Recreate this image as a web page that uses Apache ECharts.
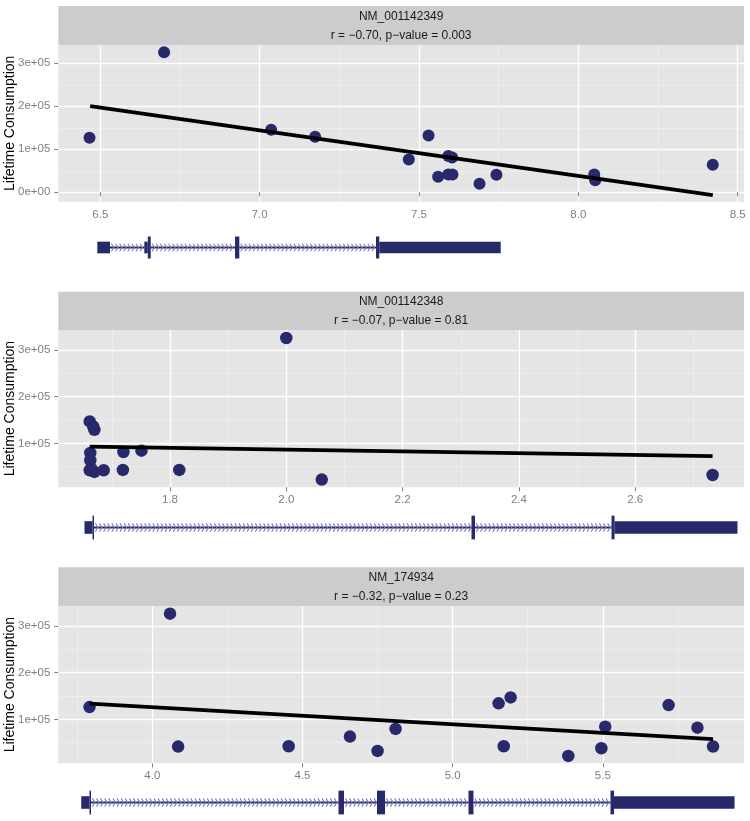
<!DOCTYPE html>
<html><head><meta charset="utf-8">
<script src="https://cdn.jsdelivr.net/npm/echarts@6/dist/echarts.min.js"></script>
<style>html,body{margin:0;padding:0;background:#fff}#c{width:750px;height:821px}</style>
</head><body><div id="c"></div>
<script>
// ---------- data ----------
const geneNames = ['NM_001142349', 'NM_001142348', 'NM_174934'];
const statLabels = ['r = \u22120.70, p\u2212value = 0.003', 'r = \u22120.07, p\u2212value = 0.81', 'r = \u22120.32, p\u2212value = 0.23'];
const yAxisTitle = 'Lifetime Consumption';

const yTickValues = [0, 100000, 200000, 300000];
const yTickLabels = ['0e+00', '1e+05', '2e+05', '3e+05'];
const xTicks1 = [6.5, 7.0, 7.5, 8.0, 8.5];
const xTicks2 = [1.8, 2.0, 2.2, 2.4, 2.6];
const xTicks3 = [4.0, 4.5, 5.0, 5.5];

const x1 = [6.466, 6.700, 7.036, 7.174, 7.468, 7.530, 7.560, 7.592, 7.604, 7.592, 7.605, 7.690, 7.743, 8.050, 8.053, 8.422];
const y1 = [127000, 325800, 145700, 129200, 76000, 132300, 36000, 84600, 81000, 41500, 41500, 19600, 40700, 41500, 28000, 64000];
const fitX1 = [6.468, 8.422];
const fitY1 = [200500, -6500];

const x2 = [1.662, 1.668, 1.670, 1.663, 1.663, 1.662, 1.670, 1.686, 1.720, 1.719, 1.751, 1.816, 2.000, 2.061, 2.733, 1.665];
const y2 = [147000, 136300, 129000, 79400, 63700, 42300, 38800, 42300, 81500, 43000, 84300, 43000, 325600, 22400, 32200, 45000];
const fitX2 = [1.662, 2.733];
const fitY2 = [92800, 72800];

const x3 = [3.791, 4.059, 4.086, 4.454, 4.658, 4.750, 4.810, 5.153, 5.193, 5.170, 5.385, 5.495, 5.508, 5.719, 5.815, 5.867];
const y3 = [126300, 326300, 41600, 42400, 63000, 32400, 79400, 134200, 147000, 42400, 21700, 38100, 84300, 130600, 82200, 41800];
const fitX3 = [3.791, 5.867];
const fitY3 = [133500, 57500];

// gene models: [start, end, kind] (kind 0 = intron, 1 = UTR, 2 = coding exon), relative position 0..1000
const gene1 = [[75.4, 125.4, 0], [134.8, 257.7, 0], [264.0, 463.3, 0],
  [56.9, 75.4, 1], [125.4, 130.5, 1], [130.5, 134.8, 2], [257.7, 264.0, 2], [463.3, 468.1, 2], [468.1, 645.2, 1]];
const gene2 = [[52.1, 602.6, 0], [607.7, 806.8, 0],
  [38.2, 49.9, 1], [49.9, 52.1, 2], [602.6, 607.7, 2], [806.8, 811.2, 2], [811.2, 990.5, 1]];
const gene3 = [[47.7, 408.6, 0], [416.7, 464.8, 0], [476.5, 598.2, 0], [605.5, 805.3, 0],
  [33.5, 45.5, 1], [45.5, 47.7, 2], [408.6, 416.7, 2], [464.8, 476.5, 2], [598.2, 605.5, 2], [805.3, 810.4, 2], [810.4, 986.2, 1]];

// ---------- layout ----------
const FONT = '"Liberation Sans", Arial, Helvetica, sans-serif';
const L = 58.3, W = 685.7;
const panels = [
  {xs: x1, ys: y1, fx: fitX1, fy: fitY1, ticks: xTicks1, xmin: 6.368, xmax: 8.520, ymin: -21900, ymax: 342600,
   stripTop: 6, plotTop: 45, plotH: 156.7, geneY: 247.5, gene: gene1, sc: 1.0, sym: 12},
  {xs: x2, ys: y2, fx: fitX2, fy: fitY2, ticks: xTicks2, xmin: 1.608, xmax: 2.787, ymin: 5800, ymax: 342800,
   stripTop: 291.7, plotTop: 330, plotH: 157.3, geneY: 527.5, gene: gene2, sc: 1.08, sym: 12.5},
  {xs: x3, ys: y3, fx: fitX3, fy: fitY3, ticks: xTicks3, xmin: 3.687, xmax: 5.970, ymin: 5800, ymax: 342800,
   stripTop: 567.3, plotTop: 606, plotH: 157.3, geneY: 802.5, gene: gene3, sc: 1.08, sym: 12.5}
];

const NAVY = '#27296b';
function geneRenderer(sc) {
  return function (params, api) {
    const s = api.value(0), e = api.value(1), kind = api.value(2);
    const p0 = api.coord([s, 0]), p1 = api.coord([e, 0]);
    const cy = p0[1];
    if (kind === 0) {
      const children = [{type: 'line', shape: {x1: p0[0], y1: cy, x2: p1[0], y2: cy},
        style: {stroke: NAVY, lineWidth: 2.2}}];
      for (let x = p0[0] + 3; x < p1[0] - 1; x += 4.1) {
        children.push({type: 'polyline',
          shape: {points: [[x - 1.6, cy - 3.8 * sc], [x + 0.8, cy], [x - 1.6, cy + 3.8 * sc]]},
          style: {stroke: '#7c7eb8', lineWidth: 1.1, fill: null}});
      }
      return {type: 'group', children: children};
    }
    const h = (kind === 1 ? 11.7 : 22) * sc;
    return {type: 'rect', shape: {x: p0[0], y: cy - h / 2, width: p1[0] - p0[0], height: h},
      style: {fill: NAVY}};
  };
}

const grid = [], xAxis = [], yAxis = [], series = [], graphic = [];
panels.forEach((p, i) => {
  grid.push({left: L, width: W, top: p.plotTop, height: p.plotH, show: true,
    backgroundColor: '#e5e5e5', borderWidth: 0, containLabel: false, outerBoundsMode: 'none'});
  grid.push({left: L, width: W, top: p.geneY - 15, height: 30, show: false, containLabel: false, outerBoundsMode: 'none'});
  const gi = i * 2;
  const yVals = yTickValues.filter(v => v >= p.ymin && v <= p.ymax);
  xAxis.push({gridIndex: gi, type: 'value', min: p.xmin, max: p.xmax, splitNumber: 5,
    axisLine: {show: false},
    axisTick: {show: true, length: 4, customValues: p.ticks, lineStyle: {color: '#7f7f7f', width: 1}},
    axisLabel: {customValues: p.ticks, formatter: v => v.toFixed(1), color: '#7f7f7f',
      fontSize: 11.5, fontFamily: FONT, margin: 7, showMinLabel: true, showMaxLabel: true},
    splitLine: {show: true, lineStyle: {color: '#ffffff', width: 1.3}},
    minorTick: {show: false, splitNumber: 2},
    minorSplitLine: {show: true, lineStyle: {color: '#f2f2f2', width: 0.6}}
  });
  yAxis.push({gridIndex: gi, type: 'value', min: p.ymin, max: p.ymax, splitNumber: 3,
    name: yAxisTitle, nameLocation: 'middle', nameGap: 40.8, nameMoveOverlap: false,
    nameTextStyle: {color: '#000', fontSize: 14, fontFamily: FONT},
    axisLine: {show: false},
    axisTick: {show: true, length: 4, customValues: yVals, lineStyle: {color: '#7f7f7f', width: 1}},
    axisLabel: {customValues: yVals, formatter: v => yTickLabels[yTickValues.indexOf(v)], color: '#7f7f7f',
      fontSize: 11.5, fontFamily: FONT, margin: 8},
    splitLine: {show: true, lineStyle: {color: '#ffffff', width: 1.3}},
    minorTick: {show: false, splitNumber: 2},
    minorSplitLine: {show: true, lineStyle: {color: '#f2f2f2', width: 0.6}}
  });
  xAxis.push({gridIndex: gi + 1, type: 'value', min: 0, max: 1000, show: false});
  yAxis.push({gridIndex: gi + 1, type: 'value', min: -1, max: 1, show: false});

  series.push({type: 'scatter', xAxisIndex: gi, yAxisIndex: gi,
    data: p.xs.map((x, k) => [x, p.ys[k]]), symbolSize: p.sym,
    itemStyle: {color: NAVY, opacity: 1}, z: 3});
  series.push({type: 'line', xAxisIndex: gi, yAxisIndex: gi,
    data: p.fx.map((x, k) => [x, p.fy[k]]), showSymbol: false, symbol: 'none',
    lineStyle: {color: '#000', width: 3.8}, z: 4});
  series.push({type: 'custom', xAxisIndex: gi + 1, yAxisIndex: gi + 1,
    data: p.gene, renderItem: geneRenderer(p.sc), clip: false, z: 2});

  const stripH = p.plotTop - p.stripTop;
  graphic.push({type: 'rect', left: L, top: p.stripTop, shape: {width: W, height: stripH},
    style: {fill: '#cccccc'}, silent: true});
  graphic.push({type: 'text', x: L + W / 2, y: p.stripTop + stripH / 2 - 8.8,
    style: {text: geneNames[i], fill: '#1a1a1a', font: '12px ' + FONT, textAlign: 'center', textVerticalAlign: 'middle'}, silent: true});
  graphic.push({type: 'text', x: L + W / 2, y: p.stripTop + stripH / 2 + 10.2,
    style: {text: statLabels[i], fill: '#1a1a1a', font: '12px ' + FONT, textAlign: 'center', textVerticalAlign: 'middle'}, silent: true});
});

const chart = echarts.init(document.getElementById('c'), null, {renderer: 'canvas'});
chart.setOption({animation: false, backgroundColor: '#ffffff', grid, xAxis, yAxis, series, graphic});
</script>
</body></html>
